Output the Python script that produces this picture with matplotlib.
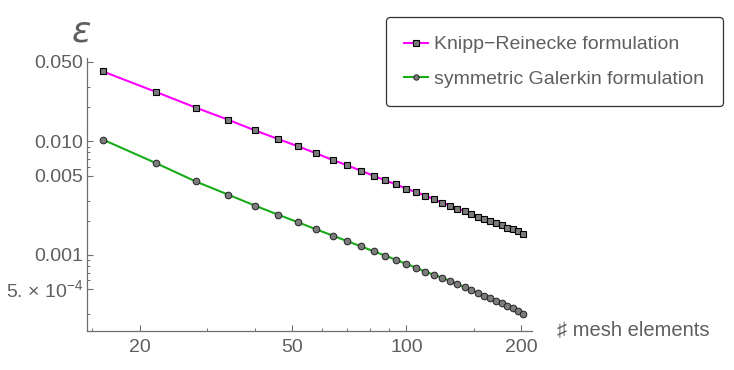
import matplotlib
matplotlib.use('Agg')
import matplotlib.pyplot as plt
from matplotlib.ticker import FixedLocator, NullFormatter, FixedFormatter

# number of mesh elements (x values)
n_elements = [16, 22, 28, 34, 40, 46, 52, 58, 64, 70, 76, 82, 88, 94, 100, 106,
              112, 118, 124, 130, 136, 142, 148, 154, 160, 166, 172, 178, 184, 190, 196, 202]

# error values
err_knipp = [0.04123, 0.02729, 0.01983, 0.01554, 0.01251, 0.01050, 0.009035, 0.007836,
             0.006868, 0.006140, 0.005513, 0.004979, 0.004525, 0.004174, 0.003824, 0.003576,
             0.003331, 0.003101, 0.002893, 0.002723, 0.002563, 0.002430, 0.002301, 0.002178,
             0.002079, 0.001996, 0.001906, 0.001829, 0.001742, 0.001686, 0.001619, 0.001542]
err_galerkin = [0.01035, 0.006447, 0.004436, 0.003405, 0.002723, 0.002268, 0.001936, 0.001679,
                0.001481, 0.001321, 0.001189, 0.001078, 0.0009858, 0.0009033, 0.0008329, 0.0007724,
                0.0007107, 0.0006700, 0.0006304, 0.0005896, 0.0005546, 0.0005220, 0.0004911, 0.0004622,
                0.0004374, 0.0004148, 0.0003926, 0.0003748, 0.0003569, 0.0003405, 0.0003225, 0.0003016]

labels = ['Knipp\u2212Reinecke formulation', 'symmetric Galerkin formulation']

x_major = [20, 50, 100, 200]
x_major_labels = ['20', '50', '100', '200']
x_minor = [15, 30, 40, 60, 70, 80, 90, 150]
y_major = [0.05, 0.01, 0.005, 0.001, 0.0005]
y_major_labels = ['0.050', '0.010', '0.005', '0.001', r'5. $\times$ 10$^{-4}$']
y_minor = [0.03, 0.02, 0.009, 0.008, 0.007, 0.006, 0.003, 0.002,
           0.0009, 0.0008, 0.0007, 0.0006, 0.0003]

plt.rcParams['font.family'] = ['Liberation Sans', 'DejaVu Sans']
plt.rcParams['mathtext.fontset'] = 'custom'
plt.rcParams['mathtext.rm'] = 'Liberation Sans'

gray = '#5f5f5f'
axis_gray = '#6e6e6e'

fig = plt.figure(figsize=(7.34, 3.70), dpi=100)
ax = fig.add_axes([87.3 / 734, 1 - 331 / 370, (531.7 - 87.3) / 734, (331 - 58) / 370])

ax.plot(n_elements, err_knipp, color='#ff00ff', lw=1.5, marker='s', ms=4.8,
        mfc='#7c7c7c', mec='black', mew=0.8, label=labels[0])
ax.plot(n_elements, err_galerkin, color='#1aab1a', lw=1.5, marker='o', ms=4.8,
        mfc='#7c7c7c', mec='#222222', mew=0.7, label=labels[1])

ax.set_xscale('log')
ax.set_yscale('log')
ax.set_xlim(14.55, 213)
ax.set_ylim(2.14e-4, 0.0542)

ax.xaxis.set_major_locator(FixedLocator(x_major))
ax.xaxis.set_major_formatter(FixedFormatter(x_major_labels))
ax.xaxis.set_minor_locator(FixedLocator(x_minor))
ax.xaxis.set_minor_formatter(NullFormatter())
ax.yaxis.set_major_locator(FixedLocator(y_major))
ax.yaxis.set_major_formatter(FixedFormatter(y_major_labels))
ax.yaxis.set_minor_locator(FixedLocator(y_minor))
ax.yaxis.set_minor_formatter(NullFormatter())

for s in ['top', 'right']:
    ax.spines[s].set_visible(False)
for s in ['left', 'bottom']:
    ax.spines[s].set_color(axis_gray)
    ax.spines[s].set_linewidth(0.9)

ax.tick_params(which='major', direction='in', length=4, width=0.8, color=axis_gray,
               labelsize=14, labelcolor=gray)
ax.tick_params(which='minor', direction='in', length=2.3, width=0.7, color=axis_gray)
ax.tick_params(axis='x', which='major', pad=6)
ax.tick_params(axis='y', which='major', pad=3)

# axis labels placed like Mathematica's AxesLabel
fig.text(81 / 734, 1 - 32 / 370, '\u03b5', fontsize=26, style='italic', color=gray,
         ha='center', va='center', family=['DejaVu Sans'])
fig.text(557 / 734, 1 - 331 / 370, '\u266f mesh elements', fontsize=14.5, color=gray,
         ha='left', va='center', family=['Liberation Sans', 'DejaVu Sans'])

leg = ax.legend(loc='upper left', bbox_to_anchor=(385.7 / 734, 1 - 17.3 / 370),
                bbox_transform=fig.transFigure, borderaxespad=0, fontsize=14,
                frameon=True, fancybox=True, handlelength=1.25, handletextpad=0.3,
                borderpad=0.95, labelspacing=0.85, markerscale=0.8)
leg.get_frame().set_edgecolor('black')
leg.get_frame().set_linewidth(0.9)
for t in leg.get_texts():
    t.set_color(gray)

fig.savefig('out.png', dpi=100)
